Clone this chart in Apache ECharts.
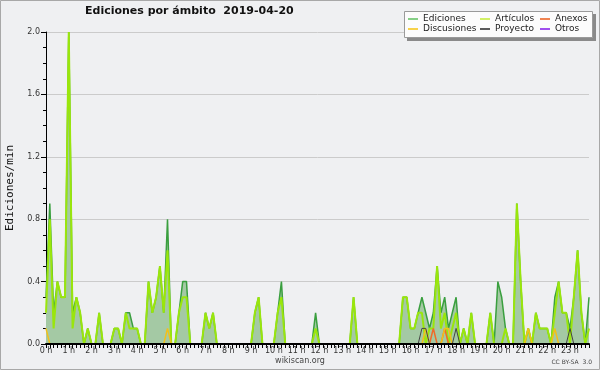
<!DOCTYPE html>
<html>
<head>
<meta charset="utf-8">
<script src="https://cdn.jsdelivr.net/npm/echarts@6/dist/echarts.min.js"></script>
<style>
html,body{margin:0;padding:0;background:#eff0f2;}
#chart{width:600px;height:370px;}
</style>
</head>
<body>
<div id="chart"></div>
<script>
// Tick labels (one per hour) and 10-minute slots
var hourLabels = ['0 h','1 h','2 h','3 h','4 h','5 h','6 h','7 h','8 h','9 h','10 h','11 h','12 h','13 h','14 h','15 h','16 h','17 h','18 h','19 h','20 h','21 h','22 h','23 h'];
var minuteSlots = ['00','10','20','30','40','50'];

// Edits per minute, one value per 10-minute slot (12 values = 2 hours per row)
var ediciones = [
  0.3,0.9,0.2,0.4,0.3,0.3, 2.0,0.2,0.3,0.2,0,0.1,
  0,0,0.2,0,0,0, 0.1,0.1,0,0.2,0.2,0.1,
  0.1,0,0,0.4,0.2,0.3, 0.5,0.2,0.8,0,0,0.2,
  0.4,0.4,0,0,0,0, 0.2,0.1,0.2,0,0,0,
  0,0,0,0,0,0, 0,0.2,0.3,0,0,0,
  0,0.2,0.4,0,0,0, 0,0,0,0,0,0.2,
  0,0,0,0,0,0, 0,0,0,0.3,0,0,
  0,0,0,0,0,0, 0,0,0,0,0.3,0.3,
  0.1,0.1,0.2,0.3,0.2,0.1, 0.2,0.5,0.2,0.3,0.1,0.2,
  0.3,0,0.1,0,0.2,0, 0,0,0,0.2,0,0.4,
  0.3,0.1,0,0,0.9,0.4, 0,0.1,0,0.2,0.1,0.1,
  0.1,0,0.3,0.4,0.2,0.2, 0.1,0.3,0.6,0.2,0,0.3
];
var articulos = [
  0.2,0.8,0.1,0.4,0.3,0.3, 2.0,0.1,0.3,0.2,0,0.1,
  0,0,0.2,0,0,0, 0.1,0.1,0,0.2,0.1,0.1,
  0.1,0,0,0.4,0.2,0.3, 0.5,0.2,0.6,0,0,0.2,
  0.3,0.3,0,0,0,0, 0.2,0.1,0.2,0,0,0,
  0,0,0,0,0,0, 0,0.2,0.3,0,0,0,
  0,0.2,0.3,0,0,0, 0,0,0,0,0,0.1,
  0,0,0,0,0,0, 0,0,0,0.3,0,0,
  0,0,0,0,0,0, 0,0,0,0,0.3,0.3,
  0.1,0.1,0.2,0.2,0,0.1, 0.1,0.5,0.1,0.2,0,0.1,
  0.2,0,0.1,0,0.2,0, 0,0,0,0.2,0,0,
  0,0.1,0,0,0.9,0.4, 0,0.1,0,0.2,0.1,0.1,
  0.1,0,0.2,0.4,0.2,0.2, 0,0.3,0.6,0.2,0,0.1
];
var anexos = [
  0,0,0,0,0,0, 0,0,0,0,0,0,
  0,0,0,0,0,0, 0,0,0,0,0,0,
  0,0,0,0,0,0, 0,0,0,0,0,0,
  0,0,0,0,0,0, 0,0,0,0,0,0,
  0,0,0,0,0,0, 0,0,0,0,0,0,
  0,0,0,0,0,0, 0,0,0,0,0,0,
  0,0,0,0,0,0, 0,0,0,0,0,0,
  0,0,0,0,0,0, 0,0,0,0,0,0,
  0,0,0,0,0,0, 0.1,0,0,0.1,0,0,
  0,0,0,0,0,0, 0,0,0,0,0,0,
  0,0,0,0,0,0, 0,0,0,0,0,0,
  0,0,0,0,0,0, 0,0,0,0,0,0
];
var discusiones = [
  0.1,0,0,0,0,0, 0,0,0,0,0,0,
  0,0,0,0,0,0, 0,0,0,0,0,0,
  0,0,0,0,0,0, 0,0,0.1,0,0,0,
  0,0,0,0,0,0, 0,0,0,0,0,0,
  0,0,0,0,0,0, 0,0,0,0,0,0,
  0,0,0,0,0,0, 0,0,0,0,0,0,
  0,0,0,0,0,0, 0,0,0,0,0,0,
  0,0,0,0,0,0, 0,0,0,0,0,0,
  0,0,0,0,0.1,0, 0,0,0,0.1,0.1,0,
  0,0,0,0,0,0, 0,0,0,0,0,0,
  0,0,0,0,0,0, 0,0.1,0,0,0,0,
  0,0,0.1,0,0,0, 0,0,0,0,0,0
];
var proyecto = [
  0,0,0,0,0,0, 0,0,0,0,0,0,
  0,0,0,0,0,0, 0,0,0,0,0,0,
  0,0,0,0,0,0, 0,0,0,0,0,0,
  0,0,0,0,0,0, 0,0,0,0,0,0,
  0,0,0,0,0,0, 0,0,0,0,0,0,
  0,0,0,0,0,0, 0,0,0,0,0,0,
  0,0,0,0,0,0, 0,0,0,0,0,0,
  0,0,0,0,0,0, 0,0,0,0,0,0,
  0,0,0,0.1,0.1,0, 0,0,0,0,0,0,
  0.1,0,0,0,0,0, 0,0,0,0,0,0,
  0,0,0,0,0,0, 0,0,0,0,0,0,
  0,0,0,0,0,0, 0.1,0,0,0,0,0
];
var otros = [
  0,0,0,0,0,0, 0,0,0,0,0,0,
  0,0,0,0,0,0, 0,0,0,0,0,0,
  0,0,0,0,0,0, 0,0,0,0,0,0,
  0,0,0,0,0,0, 0,0,0,0,0,0,
  0,0,0,0,0,0, 0,0,0,0,0,0,
  0,0,0,0,0,0, 0,0,0,0,0,0,
  0,0,0,0,0,0, 0,0,0,0,0,0,
  0,0,0,0,0,0, 0,0,0,0,0,0,
  0,0,0,0,0,0, 0,0,0,0,0,0,
  0,0,0,0,0,0, 0,0,0,0,0,0,
  0,0,0,0,0,0, 0,0,0,0,0,0,
  0,0,0,0,0,0, 0,0,0,0,0,0
];

var categories = [];
for (var h = 0; h < 24; h++) {
  for (var m = 0; m < minuteSlots.length; m++) categories.push(h + ':' + minuteSlots[m]);
}

var FONT = 'DejaVu Sans';
var chart = echarts.init(document.getElementById('chart'), null, {renderer: 'canvas'});

function lineSeries(name, data, color, width, z, extra) {
  var s = {
    name: name, type: 'line', data: data, showSymbol: false, symbol: 'none',
    smooth: false, z: z, animation: false,
    lineStyle: {color: color, width: width},
    itemStyle: {color: color}
  };
  if (extra) for (var k in extra) s[k] = extra[k];
  return s;
}

var legendText = {fontFamily: FONT, fontSize: 9, color: '#222', lineHeight: 10};
function legendCol(left, items) {
  return {
    orient: 'vertical', left: left, top: 14, itemWidth: 10, itemHeight: 2,
    itemGap: 0, padding: 0, icon: 'rect', textStyle: legendText,
    data: items, selectedMode: false
  };
}

chart.setOption({
  animation: false,
  backgroundColor: '#eff0f2',
  title: {
    text: 'Ediciones por ámbito  2019-04-20',
    left: 85, top: 6, padding: 0,
    textStyle: {fontFamily: FONT, fontSize: 11, fontWeight: 'bold', color: '#111'}
  },
  legend: [
    legendCol(408, [
      {name: 'Ediciones', itemStyle: {color: '#86cf86'}},
      {name: 'Discusiones', itemStyle: {color: '#f7d24a'}}
    ]),
    legendCol(480, [
      {name: 'Artículos', itemStyle: {color: '#d2f066'}},
      {name: 'Proyecto', itemStyle: {color: '#5a5a5a'}}
    ]),
    legendCol(540, [
      {name: 'Anexos', itemStyle: {color: '#f08452'}},
      {name: 'Otros', itemStyle: {color: '#a050ee'}}
    ])
  ],
  graphic: [
    {type: 'rect', z: 0, shape: {x: 0.5, y: 0.5, width: 599, height: 369},
     style: {fill: 'none', stroke: '#a8a8a8', lineWidth: 1}},
    {type: 'rect', z: 0, shape: {x: 407, y: 14, width: 189, height: 27},
     style: {fill: '#8a8a8a'}},
    {type: 'rect', z: 1, shape: {x: 404.5, y: 11.5, width: 188, height: 26},
     style: {fill: '#fcfcfc', stroke: '#9a9a9a', lineWidth: 1}},
    {type: 'text', z: 5, x: 300, y: 361,
     style: {text: 'wikiscan.org', fontFamily: FONT, fontSize: 8, fill: '#444',
             textAlign: 'center', textVerticalAlign: 'middle'}},
    {type: 'text', z: 5, x: 592, y: 362,
     style: {text: 'CC BY-SA  3.0', fontFamily: FONT, fontSize: 6, fill: '#444',
             textAlign: 'right', textVerticalAlign: 'middle'}}
  ],
  grid: {left: 46, right: 11, top: 32, bottom: 26, containLabel: false, outerBoundsMode: 'none'},
  xAxis: {
    type: 'category', data: categories, boundaryGap: false, z: 10,
    axisLine: {show: true, onZero: false, lineStyle: {color: '#000', width: 2}},
    axisTick: {show: true, interval: 0, length: 4, lineStyle: {color: '#000', width: 1}},
    axisLabel: {
      interval: 5, margin: 3, fontFamily: FONT, fontSize: 8, color: '#333',
      formatter: function (v, idx) { return hourLabels[Math.floor(idx / 6)]; }
    },
    splitLine: {show: false}
  },
  yAxis: {
    type: 'value', min: 0, max: 2.0, interval: 0.4,
    name: 'Ediciones/min', nameLocation: 'middle', nameGap: 30,
    nameTextStyle: {fontFamily: 'DejaVu Sans Mono', fontSize: 11, color: '#111'},
    axisLine: {show: true, lineStyle: {color: '#000', width: 1}},
    axisTick: {show: true, length: 5, lineStyle: {color: '#000'}},
    minorTick: {show: true, splitNumber: 4, length: 3, lineStyle: {color: '#000'}},
    axisLabel: {
      margin: 6, fontFamily: FONT, fontSize: 8, color: '#333',
      formatter: function (v) { return v.toFixed(1); }
    },
    splitLine: {show: true, lineStyle: {color: '#cbcbcb', width: 1}}
  },
  series: [
    lineSeries('Ediciones', ediciones, '#3a9f3f', 1.5, 2,
      {areaStyle: {color: '#a4c9a4', opacity: 1}}),
    lineSeries('Artículos', articulos, '#9ae60c', 2, 3),
    lineSeries('Anexos', anexos, '#f06a28', 1.5, 4),
    lineSeries('Discusiones', discusiones, '#f2c01a', 1.5, 4),
    lineSeries('Proyecto', proyecto, '#444444', 1, 5),
    lineSeries('Otros', otros, '#9040e0', 1, 5)
  ]
});
</script>
</body>
</html>
